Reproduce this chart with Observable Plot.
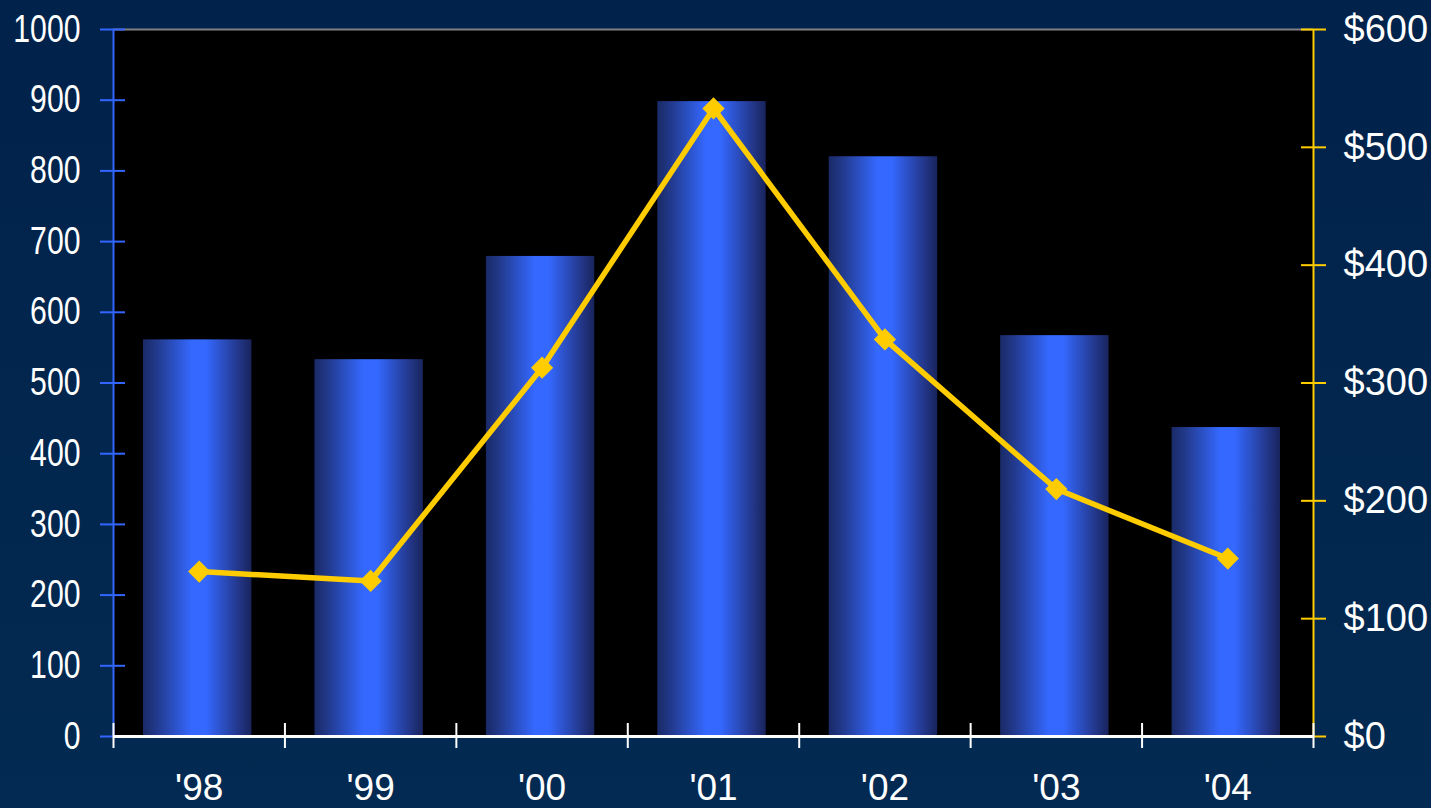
<!DOCTYPE html>
<html><head><meta charset="utf-8">
<script src="https://cdn.jsdelivr.net/npm/d3@7"></script>
<script src="https://cdn.jsdelivr.net/npm/@observablehq/plot@0.6"></script>
<style>
html,body{margin:0;padding:0;width:1431px;height:808px;overflow:hidden;background:linear-gradient(180deg,#01224a 0%,#032a52 100%);}
#chart svg{display:block}
</style></head><body><div id="chart"></div>
<script>
const years = ["'98","'99","'00","'01","'02","'03","'04"];
const units = [561, 533, 679, 898, 820, 567, 437];
const dollars = [140, 132, 313, 533, 337, 210, 151];
const leftTicks = [0,100,200,300,400,500,600,700,800,900,1000];
const rightTicks = [0,100,200,300,400,500,600];

const W = 1431, H = 808, mL = 113, mR = 118, mT = 29, mB = 72;
const plotW = W - mL - mR, plotH = H - mT - mB;
const toLeft = v => v * 1000 / 600;
const rows = years.map((y, i) => ({year: y, i, units: units[i], dollars: dollars[i]}));

const BLUE = "#3366ff", GOLD = "#ffcc00";

function gradientDefs() {
  const ns = "http://www.w3.org/2000/svg";
  const d = document.createElementNS(ns, "defs");
  const g = document.createElementNS(ns, "linearGradient");
  g.setAttribute("id", "barGrad");
  g.setAttribute("x1", "0"); g.setAttribute("x2", "1");
  g.setAttribute("y1", "0"); g.setAttribute("y2", "0");
  [[0, "#1a2a66"], [0.12, "#22398a"], [0.45, "#3468ff"], [0.58, "#3468ff"], [0.88, "#23378a"], [1, "#19245c"]].forEach(([o, c]) => {
    const s = document.createElementNS(ns, "stop");
    s.setAttribute("offset", o); s.setAttribute("stop-color", c);
    g.appendChild(s);
  });
  d.appendChild(g);
  return d;
}

// condense left-axis labels (reference uses a narrow face)
function narrow(index, scales, values, dimensions, context, next) {
  const g = next(index, scales, values, dimensions, context);
  g.querySelectorAll("text").forEach(t => {
    t.setAttribute("textLength", t.textContent.length * 16.8);
    t.setAttribute("lengthAdjust", "spacingAndGlyphs");
  });
  return g;
}

const chart = Plot.plot({
  width: W, height: H,
  marginLeft: mL, marginRight: mR, marginTop: mT, marginBottom: mB,
  style: {background: "transparent", color: "white", fontFamily: "'Liberation Sans', Arial, sans-serif"},
  x: {domain: [0, 7], axis: null},
  y: {domain: [0, 1000], axis: null},
  marks: [
    Plot.frame({fill: "black", stroke: null}),
    gradientDefs,
    Plot.rectY(rows, {x1: d => d.i, x2: d => d.i + 1, y: "units", insetLeft: 30, insetRight: 33, fill: "url(#barGrad)"}),
    Plot.ruleY([1000], {stroke: "#808080", strokeWidth: 2}),
    Plot.ruleX([0], {stroke: BLUE, strokeWidth: 2}),
    Plot.ruleY(leftTicks, {stroke: BLUE, strokeWidth: 2, insetLeft: -13, insetRight: plotW - 12}),
    Plot.ruleX([7], {stroke: GOLD, strokeWidth: 2}),
    Plot.ruleY(rightTicks.map(toLeft), {stroke: GOLD, strokeWidth: 2, insetLeft: plotW - 12, insetRight: -13}),
    Plot.ruleY([0], {stroke: "white", strokeWidth: 3}),
    Plot.ruleX(d3.range(8), {stroke: "white", strokeWidth: 2, insetTop: plotH - 13, insetBottom: -12}),
    Plot.line(rows, {x: d => d.i + 0.5, y: d => toLeft(d.dollars), stroke: GOLD, strokeWidth: 5.5}),
    Plot.dot(rows, {x: d => d.i + 0.5, y: d => toLeft(d.dollars), symbol: "diamond2", r: 10, fill: GOLD, stroke: null}),
    Plot.axisY(leftTicks, {anchor: "left", label: null, tickSize: 0, tickPadding: 33, fontSize: 38, fill: "white", tickFormat: d => String(d), render: narrow}),
    Plot.axisY(rightTicks.map(toLeft), {anchor: "right", label: null, tickSize: 0, tickPadding: 30, fontSize: 38, fill: "white", tickFormat: d => "$" + Math.round(d * 0.6)}),
    Plot.axisX(years.map((_, i) => i + 0.5), {anchor: "bottom", label: null, tickSize: 0, tickPadding: 37, fontSize: 37, fill: "white", tickFormat: d => years[Math.floor(d)]})
  ]
});
document.getElementById("chart").appendChild(chart);
</script>
</body></html>
